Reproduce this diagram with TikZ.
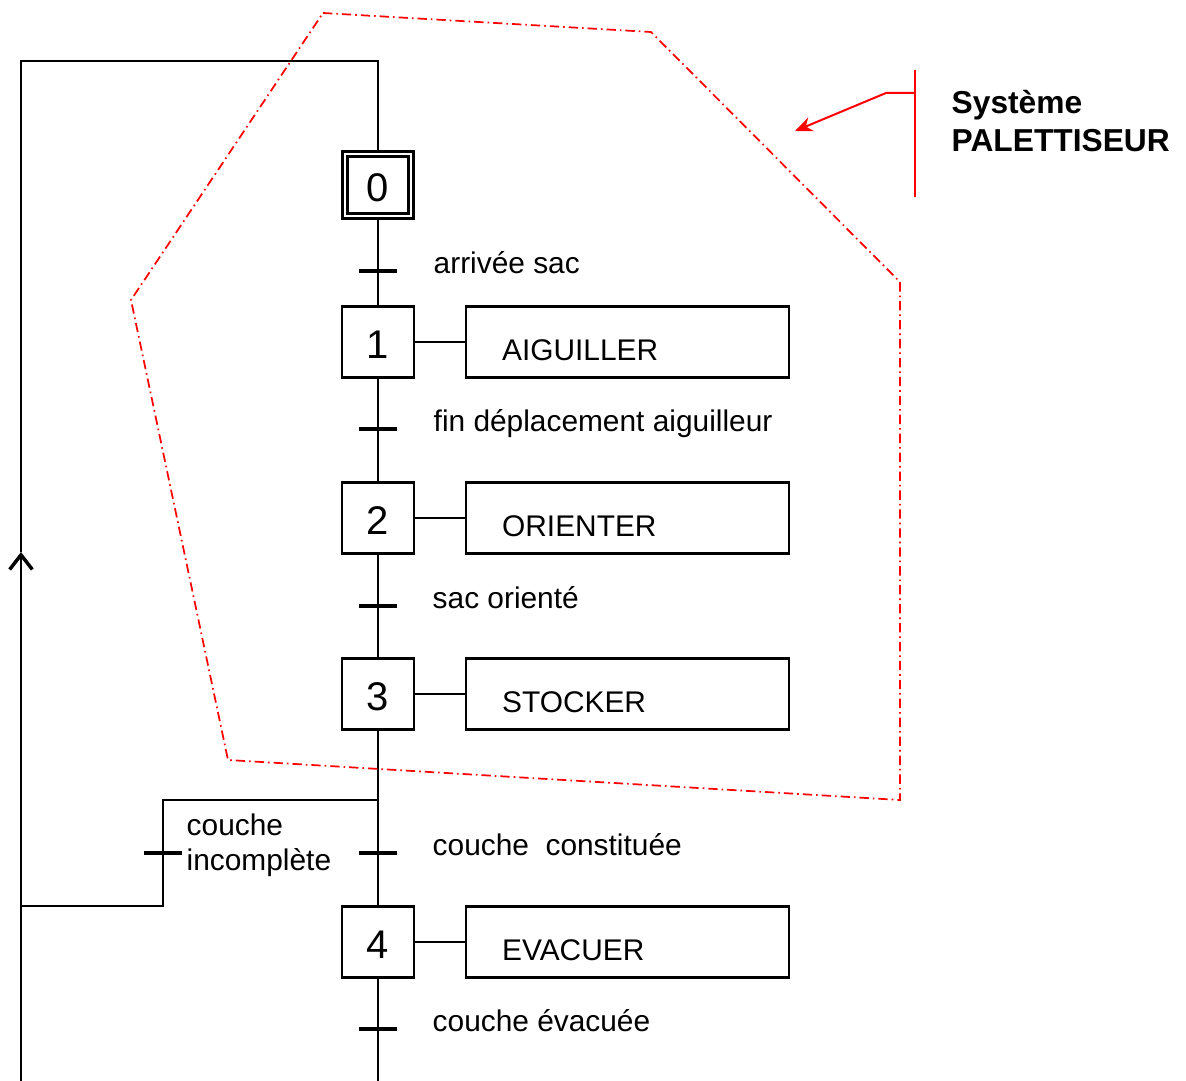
\documentclass[tikz,border=0pt]{standalone}
\usepackage{fontspec}
\setmainfont{Liberation Sans}
\usetikzlibrary{arrows.meta,calc}

\begin{document}
\begin{tikzpicture}[x=0.75pt,y=-0.75pt,
  etape/.style={draw,line width=1.9pt,minimum width=54pt,minimum height=53pt,inner sep=0pt,text height=24pt,text depth=0pt,font=\fontsize{30}{30}\selectfont},
  init/.style={etape,double,double distance=2.2pt,line width=2.1pt,outer sep=3.2pt,minimum width=49.5pt,minimum height=46.5pt},
  action/.style={draw,line width=1.9pt,minimum height=53pt,text width=188pt,inner xsep=27pt,inner ysep=0pt,align=left,text height=27.7pt,text depth=0pt,font=\fontsize{22.4}{24}\selectfont},
  recep/.style={line width=3pt},
  liaison/.style={line width=2.2pt},
  lab/.style={anchor=base west,font=\fontsize{22.4}{26}\selectfont},
  zone/.style={red,line width=1.3pt,dash pattern=on 7pt off 3pt on 1.2pt off 3pt},
  titre/.style={anchor=west,align=left,font=\bfseries\fontsize{23.8}{29}\selectfont}]
\useasboundingbox (0,0) rectangle (1186,1081);
% etapes et actions
\node[init] (e0) at (378,185) {0};
\foreach \n/\y/\act in {1/342/AIGUILLER,2/518/ORIENTER,3/694/STOCKER,4/942/EVACUER}{
  \node[etape] (e\n) at (378,\y) {\n};
  \node[action] (a\n) at (627.5,\y) {\act};
  \draw[liaison] (e\n.east) -- (a\n.west);
}
% transitions
\foreach \n/\y in {0/271,1/429,2/606,3/853,4/1029} \coordinate (t\n) at (378,\y);
\coordinate (tl) at (163,853);
\foreach \t in {t0,t1,t2,t3,t4,tl} \draw[recep] ($(\t)+(-19,0)$) -- ($(\t)+(19,0)$);
\node[lab] (l0) at ($(t0)+(51,2)$) {arrivée sac};
\node[lab] (l1) at ($(t1)+(51,2)$) {fin déplacement aiguilleur};
\node[lab] (l2) at ($(t2)+(50,2)$) {sac orienté};
\node[lab] (l3) at ($(t3)+(50,2)$) {couche\ \ constituée};
\node[lab] (l4) at ($(t4)+(50,2)$) {couche évacuée};
\node[lab,anchor=west,align=left] (ll) at (182,845) {couche\\ incomplète};
% liaisons
\coordinate (haut) at (378,61); \coordinate (hautg) at (21,61);
\coordinate (basg) at (21,1081); \coordinate (bas) at (378,1081);
\coordinate (fleche) at (21,552);
\coordinate (div) at (378,800); \coordinate (divg) at (163,800);
\coordinate (retg) at (163,906); \coordinate (ret) at (21,906);
\draw[liaison] (e0.south) -- (e1.north);
\draw[liaison] (e1.south) -- (e2.north);
\draw[liaison] (e2.south) -- (e3.north);
\draw[liaison] (e3.south) -- (e4.north);
\draw[liaison] (e4.south) -- (bas);
\draw[liaison] (div) -- (divg) -- (retg) -- (ret);
\draw[liaison,-{Straight Barb[length=11pt,width=17pt,line width=2.6pt]}] (basg) -- (fleche);
\draw[liaison] (fleche) -- (hautg) -- (haut) -- (e0.north);
% systeme
\draw[zone] (323,13) -- (651,32) -- (900,282) -- (900,800) -- (228,760) -- (131,300) -- cycle;
\node[titre] (sys) at (947,121) {Système\\PALETTISEUR};
\coordinate (acc1) at (915,70); \coordinate (acc2) at (915,197);
\coordinate (acc3) at (915,93); \coordinate (coude) at (886,93);
\coordinate (cible) at (795,131);
\draw[red,line width=1.5pt] (acc1) -- (acc2);
\draw[red,line width=1.5pt,-{Stealth[length=13pt,width=11pt]}] (acc3) -- (coude) -- (cible);
\end{tikzpicture}
\end{document}
